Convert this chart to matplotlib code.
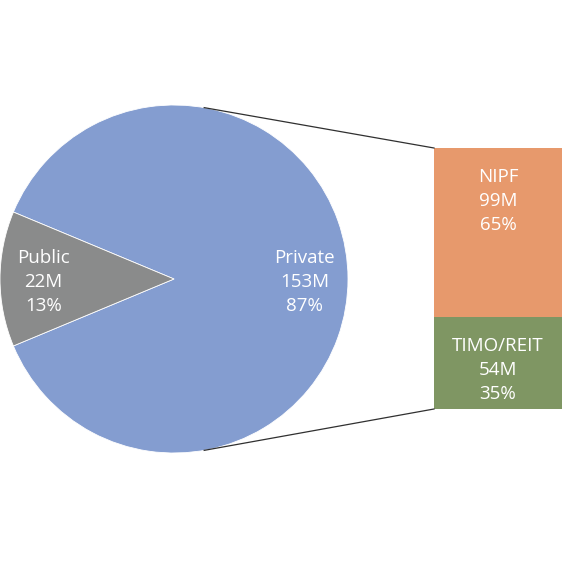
import matplotlib
matplotlib.use("Agg")
import matplotlib.pyplot as plt
import numpy as np

# pie data
pie_labels = ["Private", "Public"]
pie_values = [153, 22]
pie_pct = ["87%", "13%"]
pie_colors = ["#849dd0", "#8a8b8b"]

# bar (breakdown of Private)
bar_labels = ["TIMO/REIT", "NIPF"]
bar_values = [54, 99]
bar_pct = ["35%", "65%"]
bar_colors = ["#7f9663", "#e7996c"]

plt.rcParams["font.family"] = ["Open Sans", "DejaVu Sans"]

fig = plt.figure(figsize=(5.63, 5.63), dpi=100)
ax = fig.add_axes([0, 0, 1, 1])

# pie
cx, cy, r = 174, 284, 174
frac0 = pie_values[0] / sum(pie_values)
wedges, _ = ax.pie(pie_values, colors=pie_colors, center=(cx, cy), radius=r,
                   startangle=-frac0 * 180, counterclock=True,
                   wedgeprops=dict(linewidth=0.6, edgecolor="white"))
for w, lab, v, p in zip(wedges, pie_labels, pie_values, pie_pct):
    mid = np.deg2rad((w.theta1 + w.theta2) / 2)
    ax.text(cx + 0.75 * r * np.cos(mid), cy + 0.75 * r * np.sin(mid) - 3,
            f"{lab}\n{v}M\n{p}", ha="center", va="center", color="white",
            fontsize=13.5, linespacing=1.42)

# bar
bx, bw, by0, bh = 498, 128, 154, 261
scale = bh / sum(bar_values)
bottom = by0
for lab, v, p, c in zip(bar_labels, bar_values, bar_pct, bar_colors):
    h = v * scale
    ax.bar(bx, h, width=bw, bottom=bottom, color=c, linewidth=0)
    if lab == "NIPF":
        ty = bottom + h - 53
    else:
        ty = bottom + h / 2 - 7
    ax.text(bx, ty, f"{lab}\n{v}M\n{p}", ha="center", va="center", color="white",
            fontsize=13.5, linespacing=1.42)
    bottom += h

# connector lines
for ang, yb in [(80, by0 + bh), (-80, by0)]:
    a = np.deg2rad(ang)
    ax.plot([cx + r * np.cos(a), bx - bw / 2], [cy + r * np.sin(a), yb],
            color="#303030", linewidth=0.9)

ax.set_xlim(0, 563)
ax.set_ylim(0, 563)
ax.set_aspect("equal")
ax.axis("off")

fig.savefig("out.png", dpi=100, facecolor="white")
